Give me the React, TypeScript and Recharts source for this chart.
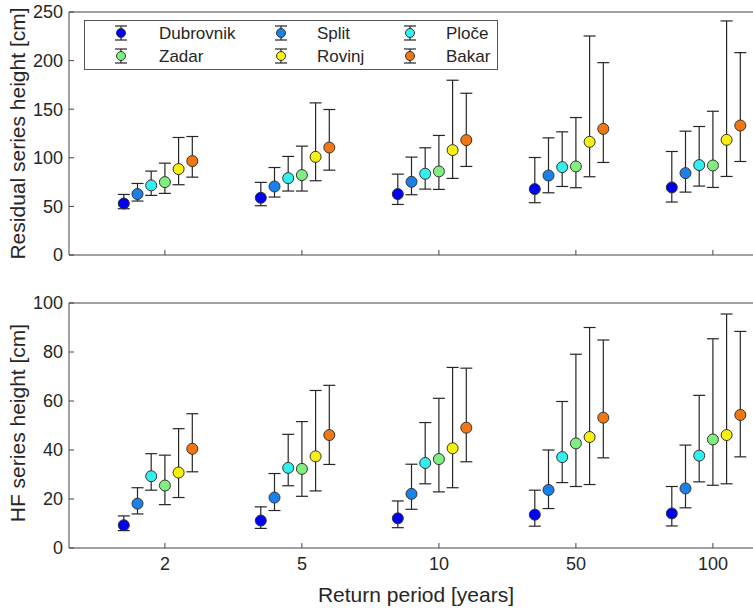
import React from "react";
import {
  ScatterChart,
  Scatter,
  XAxis,
  YAxis,
  ErrorBar,
  Legend,
} from "recharts";

const periods = ["2", "5", "10", "50", "100"];
const stations = ["Dubrovnik", "Split", "Ploče", "Zadar", "Rovinj", "Bakar"];
const colors = ["#0000f2", "#1a80ea", "#33f0f0", "#7ff07f", "#f8f010", "#f27712"];
const offsets = [-0.3, -0.2, -0.1, 0, 0.1, 0.2];

// residual series, per station (rows) and return period (cols)
const resMid = [
  [53, 58.9, 62.7, 67.8, 69.5],
  [62.7, 70.5, 75.3, 81.8, 84.2],
  [71.6, 79.1, 83.6, 90.4, 92.5],
  [75, 82.2, 86, 91.1, 92.1],
  [88.4, 101, 107.9, 116.4, 118.5],
  [96.6, 110.6, 118.2, 129.8, 133.2],
];
const resLow = [
  [47.6, 50.7, 52, 53.8, 54.5],
  [55.5, 59.6, 62, 64, 64.7],
  [61.3, 65.8, 67.8, 70.5, 70.9],
  [63.4, 65.8, 67.5, 69.2, 69.5],
  [72.3, 76.4, 78.8, 80.5, 80.8],
  [80.1, 87.3, 91.1, 95.2, 96.2],
];
const resHigh = [
  [62.3, 74.7, 83.2, 100.3, 106.5],
  [73.6, 90, 100.7, 120.5, 127.4],
  [86.3, 101.4, 110.3, 126.7, 132.2],
  [94.5, 112, 123, 141.4, 147.9],
  [120.9, 156.5, 179.8, 225.3, 240.8],
  [121.9, 149.7, 166.4, 197.9, 208.2],
];

// HF series
const hfMid = [
  [9.3, 11.2, 12.1, 13.6, 14.1],
  [18.1, 20.6, 22.1, 23.7, 24.3],
  [29.3, 32.7, 34.7, 37.1, 37.7],
  [25.5, 32.3, 36.3, 42.7, 44.3],
  [30.8, 37.4, 40.7, 45.3, 46.1],
  [40.5, 46.1, 49.1, 53.2, 54.3],
];
const hfLow = [
  [7.1, 8, 8.3, 8.9, 9],
  [13.9, 15.3, 15.8, 16.1, 16.4],
  [23.6, 25.4, 26.2, 26.7, 27],
  [17.7, 21.1, 22.9, 25.1, 25.6],
  [20.6, 23.3, 24.6, 25.9, 26.2],
  [31.1, 34.1, 35.2, 36.8, 37.2],
];
const hfHigh = [
  [13.1, 16.8, 19.2, 23.6, 25.1],
  [24.6, 30.4, 34.2, 40, 42],
  [38.5, 46.4, 51.2, 59.8, 62.3],
  [37.9, 51.6, 61.1, 79.1, 85.4],
  [48.7, 64.3, 73.7, 90, 95.5],
  [54.8, 66.4, 73.4, 84.9, 88.4],
];

const resTicks = [0, 50, 100, 150, 200, 250];
const hfTicks = [0, 20, 40, 60, 80, 100];
const xTicks = [1, 2, 3, 4, 5];

const FONT = '"Liberation Sans", Arial, sans-serif';
const AXIS = "#444";
const TEXT = "#262626";

function buildSeries(mid: number[][], low: number[][], high: number[][], s: number) {
  return mid[s].map((v, i) => ({
    x: i + 1 + offsets[s],
    y: v,
    err: [v - low[s][i], high[s][i] - v],
  }));
}

const Dot = (color: string, r: number) => (props: any) => (
  <circle cx={props.cx} cy={props.cy} r={r} fill={color} stroke="#333" strokeWidth={1} />
);

function LegendBox() {
  const cols = [121, 281, 410];
  const textX = [159, 317, 446];
  const rows = [33, 56];
  return (
    <svg width={414} height={50} style={{ display: "block" }}>
      <rect x={0.5} y={0.5} width={413} height={49} fill="#fff" stroke="#555" strokeWidth={1} />
      {stations.map((name, i) => {
        const cx = cols[i % 3] - 84;
        const cy = rows[Math.floor(i / 3)] - 20;
        return (
          <g key={name}>
            <line x1={cx} x2={cx} y1={cy - 7} y2={cy + 7} stroke={TEXT} strokeWidth={1.2} />
            <line x1={cx - 6} x2={cx + 6} y1={cy - 7} y2={cy - 7} stroke={TEXT} strokeWidth={1.2} />
            <line x1={cx - 6} x2={cx + 6} y1={cy + 7} y2={cy + 7} stroke={TEXT} strokeWidth={1.2} />
            <circle cx={cx} cy={cy} r={4.5} fill={colors[i]} stroke="#333" strokeWidth={1} />
            <text
              x={textX[i % 3] - 84}
              y={cy}
              dominantBaseline="central"
              fontSize={17}
              fontFamily={FONT}
              fill={TEXT}
            >
              {name}
            </text>
          </g>
        );
      })}
    </svg>
  );
}

interface PanelProps {
  mid: number[][];
  low: number[][];
  high: number[][];
  ticks: number[];
  ylabel: string;
  height: number;
  marginTop: number;
  marginBottom: number;
  xHeight: number;
  showX: boolean;
  labelY: number;
  legend: boolean;
}

function Panel(p: PanelProps) {
  const domain = [p.ticks[0], p.ticks[p.ticks.length - 1]];
  return (
    <ScatterChart
      width={760}
      height={p.height}
      margin={{ top: p.marginTop, right: 5, bottom: p.marginBottom, left: 0 }}
      style={{ fontFamily: FONT }}
    >
      <XAxis
        type="number"
        dataKey="x"
        domain={[0.3, 5.3]}
        ticks={xTicks}
        interval={0}
        allowDataOverflow
        height={p.xHeight}
        tickSize={-5}
        tickMargin={14}
        stroke={AXIS}
        tick={{ fill: TEXT, fontSize: 18 }}
        tickFormatter={(v: number) => (p.showX ? periods[v - 1] : "")}
        label={
          p.showX
            ? () => (
                <text x={416} y={312} textAnchor="middle" fontSize={21} fontFamily={FONT} fill={TEXT}>
                  Return period [years]
                </text>
              )
            : undefined
        }
      />
      <XAxis
        xAxisId="top"
        orientation="top"
        type="number"
        dataKey="x"
        domain={[0.3, 5.3]}
        ticks={xTicks}
        interval={0}
        height={1}
        tickSize={-5}
        stroke={AXIS}
        tickFormatter={() => ""}
      />
      <YAxis
        type="number"
        dataKey="y"
        domain={domain}
        ticks={p.ticks}
        interval={0}
        width={69}
        tickSize={-5}
        tickMargin={11}
        stroke={AXIS}
        tick={{ fill: TEXT, fontSize: 18 }}
        label={() => (
          <text
            x={17}
            y={p.labelY}
            transform={`rotate(-90 17 ${p.labelY})`}
            textAnchor="middle"
            dominantBaseline="central"
            fontSize={21}
            fontFamily={FONT}
            fill={TEXT}
          >
            {p.ylabel}
          </text>
        )}
      />
      <YAxis
        yAxisId="right"
        orientation="right"
        type="number"
        domain={domain}
        ticks={p.ticks}
        interval={0}
        width={1}
        tickSize={-5}
        stroke={AXIS}
        tickFormatter={() => ""}
      />
      {p.legend && (
        <Legend
          layout="vertical"
          align="center"
          verticalAlign="middle"
          content={() => <LegendBox />}
          wrapperStyle={{ left: 84, top: 20, width: 414, height: 50 }}
        />
      )}
      {stations.map((name, s) => (
        <Scatter
          key={name}
          name={name}
          data={buildSeries(p.mid, p.low, p.high, s)}
          fill={colors[s]}
          shape={Dot(colors[s], 5.5)}
          isAnimationActive={false}
        >
          <ErrorBar
            dataKey="err"
            direction="y"
            width={6}
            stroke={TEXT}
            strokeWidth={1.2}
            isAnimationActive={false}
          />
        </Scatter>
      ))}
    </ScatterChart>
  );
}

export default function App() {
  return (
    <div
      style={{
        position: "absolute",
        left: 0,
        top: 0,
        width: 753,
        height: 614,
        overflow: "hidden",
        background: "#fff",
      }}
    >
      <div style={{ position: "absolute", left: 0, top: 0 }}>
        <Panel
          mid={resMid}
          low={resLow}
          high={resHigh}
          ticks={resTicks}
          ylabel="Residual series height [cm]"
          height={270}
          marginTop={11}
          marginBottom={14}
          xHeight={1}
          showX={false}
          labelY={133.5}
          legend
        />
      </div>
      <div style={{ position: "absolute", left: 0, top: 290 }}>
        <Panel
          mid={hfMid}
          low={hfLow}
          high={hfHigh}
          ticks={hfTicks}
          ylabel="HF series height [cm]"
          height={324}
          marginTop={12}
          marginBottom={26}
          xHeight={40}
          showX
          labelY={133}
          legend={false}
        />
      </div>
    </div>
  );
}
